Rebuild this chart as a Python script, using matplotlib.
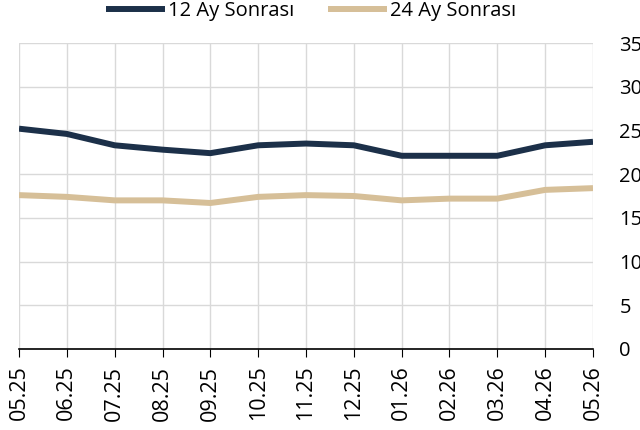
import matplotlib.pyplot as plt

plt.rcParams['font.family'] = ['Open Sans', 'DejaVu Sans']

months = ["05.25", "06.25", "07.25", "08.25", "09.25", "10.25", "11.25",
          "12.25", "01.26", "02.26", "03.26", "04.26", "05.26"]
ay12 = [25.2, 24.6, 23.3, 22.8, 22.4, 23.3, 23.5, 23.3, 22.1, 22.1, 22.1, 23.3, 23.7]
ay24 = [17.6, 17.4, 17.0, 17.0, 16.7, 17.4, 17.6, 17.5, 17.0, 17.2, 17.2, 18.2, 18.4]

fig = plt.figure(figsize=(6.4, 4.3), dpi=100)
ax = fig.add_axes([19 / 640, 1 - 349 / 430, (593 - 19) / 640, (349 - 43) / 430])

x = range(len(months))
ax.plot(x, ay12, color="#1c3049", lw=4.3, label="12 Ay Sonrası", solid_capstyle="butt")
ax.plot(x, ay24, color="#d6bf98", lw=4.3, label="24 Ay Sonrası", solid_capstyle="butt")

ax.set_xlim(0, len(months) - 1)
ax.set_ylim(0, 35)
ax.set_yticks(range(0, 36, 5))
ax.set_xticks(list(x))
ax.set_xticklabels(months, rotation=90, fontsize=15.5)
ax.yaxis.tick_right()
ax.tick_params(axis="y", length=0, pad=19, labelsize=14.5)
ax.tick_params(axis="x", length=6, color="black", pad=6)
for lab in ax.get_yticklabels():
    lab.set_horizontalalignment("left")

ax.grid(True, color="#d9d9d9", lw=1)
ax.set_axisbelow(True)
for s in ["top", "left", "right"]:
    ax.spines[s].set_visible(False)
ax.spines["bottom"].set_color("black")
ax.spines["bottom"].set_linewidth(1.2)

fig.legend(loc="upper center", bbox_to_anchor=(0.486, 1.04), ncol=2, frameon=False,
           fontsize=14.5, handlelength=2.9, handletextpad=0.15, columnspacing=1.7)

fig.savefig("out.png", dpi=100)
